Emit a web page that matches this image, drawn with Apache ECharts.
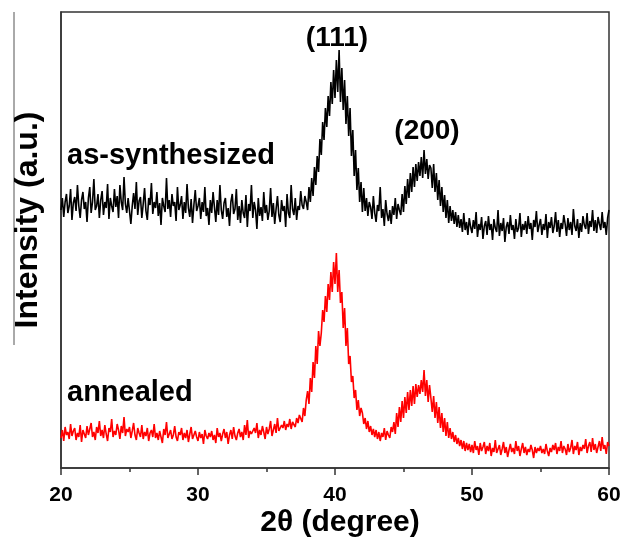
<!DOCTYPE html>
<html>
<head>
<meta charset="utf-8">
<script src="https://cdn.jsdelivr.net/npm/echarts@6/dist/echarts.min.js"></script>
<style>
  html, body { margin: 0; padding: 0; background: #fff; }
  #chart { width: 631px; height: 543px; }
</style>
</head>
<body>
<div id="chart"></div>
<script>
// 2θ scan: 20° to 60°, step 0.1°
const scanStart = 20;
const scanStep = 0.1;
const xTicks = [20, 30, 40, 50, 60];

// intensity (a.u.)
const asSynthesized = [
  258, 270, 251, 266, 274, 255, 262, 279, 248, 265,
  271, 257, 283, 262, 250, 268, 276, 259, 266, 246,
  270, 281, 255, 266, 289, 258, 262, 274, 250, 268,
  277, 253, 266, 260, 284, 249, 270, 262, 256, 279,
  261, 272, 250, 283, 266, 258, 291, 264, 255, 270,
  268, 244, 262, 275, 259, 286, 253, 267, 271, 250,
  264, 280, 257, 248, 270, 263, 285, 254, 266, 260,
  276, 252, 265, 243, 270, 262, 256, 290, 259, 268,
  251, 274, 262, 266, 247, 281, 258, 263, 272, 249,
  266, 255, 284, 260, 251, 269, 245, 263, 278, 257,
  262, 270, 249, 266, 256, 281, 252, 260, 243, 268,
  255, 276, 261, 246, 268, 253, 283, 258, 249, 265,
  270, 251, 260, 242, 266, 274, 254, 259, 279, 248,
  262, 245, 268, 255, 250, 273, 241, 264, 257, 283,
  250, 266, 258, 239, 270, 252, 261, 247, 276, 255,
  263, 248, 257, 280, 251, 265, 244, 259, 272, 253,
  246, 268, 257, 262, 241, 274, 255, 250, 283, 259,
  253, 270, 248, 262, 258, 277, 263, 259, 272, 266,
  258, 281, 266, 290, 272, 301, 283, 312, 296, 329,
  313, 346, 328, 360, 341, 372, 352, 386, 364, 398,
  370, 408, 376, 418, 366, 400, 358, 388, 344, 372,
  332, 360, 312, 338, 292, 318, 278, 300, 266, 286,
  256, 280, 257, 270, 252, 266, 261, 249, 272, 255,
  246, 263, 257, 281, 250, 259, 242, 268, 254, 247,
  258, 244, 262, 253, 270, 249, 264, 258, 253, 274,
  256, 282, 264, 289, 270, 295, 276, 301, 281, 304,
  287, 306, 292, 311, 290, 318, 294, 309, 289, 303,
  300, 280, 304, 276, 295, 268, 288, 262, 281, 256,
  273, 250, 268, 245, 262, 247, 258, 244, 256, 241,
  253, 240, 249, 236, 255, 238, 246, 233, 250, 241,
  235, 248, 239, 256, 231, 244, 238, 251, 229, 242,
  247, 233, 252, 238, 244, 228, 249, 240, 236, 258,
  232, 245, 237, 250, 226, 241, 246, 234, 253, 238,
  243, 229, 249, 236, 240, 255, 231, 244, 238, 247,
  234, 252, 239, 245, 228, 248, 241, 257, 236, 243,
  249, 233, 244, 238, 254, 230, 246, 240, 251, 235,
  242, 256, 236, 248, 231, 245, 239, 253, 244, 232,
  250, 238, 246, 233, 259, 242, 237, 249, 230, 245,
  236, 252, 243, 239, 255, 234, 247, 241, 258, 237,
  248, 235, 251, 244, 238, 256, 240, 246, 233, 250,
  258
];

const annealed = [
  30, 38, 27, 41, 33, 36, 29, 44, 32, 37,
  40, 28, 35, 31, 43, 26, 38, 34, 30, 42,
  33, 39, 45, 31, 36, 28, 41, 35, 47, 32,
  38, 30, 43, 34, 27, 40, 36, 49, 31, 37,
  33, 44, 38, 29, 42, 35, 51, 32, 39, 36,
  41, 30, 37, 45, 33, 28, 40, 35, 31, 43,
  29, 36, 32, 40, 27, 35, 38, 31, 44, 30,
  35, 28, 37, 31, 25, 39, 33, 46, 30, 34,
  38, 29, 33, 42, 31, 27, 36, 33, 40, 28,
  35, 30, 38, 26, 34, 41, 29, 33, 37, 31,
  27, 36, 30, 34, 24, 38, 32, 29, 35, 31,
  37, 28, 33, 25, 40, 31, 35, 27, 34, 39,
  30, 36, 24, 33, 38, 29, 41, 32, 28, 35,
  39, 31, 36, 28, 43, 33, 48, 30, 37, 34,
  32, 40, 35, 45, 30, 38, 33, 42, 36, 29,
  41, 34, 39, 47, 32, 38, 44, 35, 50, 37,
  36, 43, 40, 47, 38, 44, 41, 49, 39, 46,
  48, 41, 50, 45, 53, 53, 46, 60, 52, 68,
  77, 64, 90, 76, 106, 90, 122, 104, 137, 122,
  135, 158, 146, 172, 156, 184, 168, 196, 176, 206,
  184, 215, 176, 198, 165, 176, 140, 160, 122, 140,
  104, 112, 86, 92, 70, 78, 58, 68, 52, 60,
  55, 44, 50, 39, 47, 36, 42, 33, 39, 31,
  38, 29, 36, 27, 35, 31, 40, 28, 37, 33,
  30, 41, 36, 46, 34, 55, 41, 61, 46, 67,
  50, 71, 55, 76, 58, 78, 62, 82, 64, 84,
  71, 83, 74, 88, 76, 98, 72, 88, 66, 83,
  70, 56, 72, 50, 66, 45, 61, 40, 55, 36,
  50, 32, 46, 30, 40, 29, 36, 26, 33, 24,
  30, 22, 28, 19, 27, 17, 25, 18, 24, 16,
  23, 15, 27, 18, 22, 13, 25, 17, 21, 26,
  14, 22, 17, 25, 12, 20, 16, 28, 15, 19,
  23, 13, 19, 26, 15, 21, 11, 18, 24, 16,
  20, 14, 27, 17, 22, 12, 19, 25, 15, 21,
  13, 19, 16, 23, 18, 10, 21, 15, 20, 17,
  22, 15, 19, 14, 24, 17, 12, 20, 16, 23,
  18, 25, 14, 21, 17, 27, 15, 22, 19, 13,
  24, 16, 20, 28, 14, 22, 18, 26, 13, 21,
  17, 23, 19, 29, 15, 22, 26, 16, 30, 18,
  24, 15, 21, 27, 17, 31, 19, 23, 14, 26,
  22
];

const twoTheta = asSynthesized.map((_, i) => +(scanStart + i * scanStep).toFixed(1));
const pairs = (ys) => ys.map((y, i) => [twoTheta[i], y]);

const font = '"Liberation Sans", Arial, sans-serif';
const chart = echarts.init(document.getElementById('chart'));

chart.setOption({
    animation: false,
    backgroundColor: '#fff',
    grid: {
        left: 61, right: 22, top: 12, bottom: 75,
        show: true, borderColor: '#333', borderWidth: 1.5
    },
    xAxis: {
        type: 'value', min: 20, max: 60, interval: 10,
        axisLine: { show: true, lineStyle: { color: '#333', width: 1.5 } },
        axisTick: { show: true, inside: false, length: 7, lineStyle: { color: '#333', width: 1.5 } },
        minorTick: { show: true, splitNumber: 2, length: 4, lineStyle: { color: '#333', width: 1.5 } },
        axisLabel: {
            margin: 17, color: '#000', fontSize: 21, fontWeight: 'bold', fontFamily: font,
            formatter: (v) => xTicks.includes(v) ? String(v) : ''
        },
        splitLine: { show: false }
    },
    yAxis: {
        type: 'value', min: 0, max: 456,
        axisLine: { show: true, lineStyle: { color: '#333', width: 1.5 } },
        axisTick: { show: false },
        axisLabel: { show: false },
        splitLine: { show: false }
    },
    series: [
        {
            name: 'as-synthesized', type: 'line', data: pairs(asSynthesized),
            showSymbol: false, lineStyle: { color: '#000', width: 1.6 }
        },
        {
            name: 'annealed', type: 'line', data: pairs(annealed),
            showSymbol: false, lineStyle: { color: '#ff0000', width: 1.6 }
        }
    ],
    graphic: [
        { type: 'line', shape: { x1: 14, y1: 12, x2: 14, y2: 345 }, style: { stroke: '#555', lineWidth: 1 } },
        {
            type: 'text', x: 28, y: 220, rotation: Math.PI / 2,
            style: { text: 'Intensity (a.u.)', font: 'bold 32px ' + font, fill: '#000', textAlign: 'center', textVerticalAlign: 'middle' }
        },
        {
            type: 'text', x: 340, y: 523,
            style: { text: '2θ (degree)', font: 'bold 30px ' + font, fill: '#000', textAlign: 'center', textVerticalAlign: 'middle' }
        },
        {
            type: 'text', x: 337, y: 38,
            style: { text: '(111)', font: 'bold 28px ' + font, fill: '#000', textAlign: 'center', textVerticalAlign: 'middle' }
        },
        {
            type: 'text', x: 427, y: 131,
            style: { text: '(200)', font: 'bold 28px ' + font, fill: '#000', textAlign: 'center', textVerticalAlign: 'middle' }
        },
        {
            type: 'text', x: 67, y: 156,
            style: { text: 'as-synthesized', font: 'bold 29px ' + font, fill: '#000', textAlign: 'left', textVerticalAlign: 'middle' }
        },
        {
            type: 'text', x: 67, y: 393,
            style: { text: 'annealed', font: 'bold 29px ' + font, fill: '#000', textAlign: 'left', textVerticalAlign: 'middle' }
        }
    ]
});
</script>
</body>
</html>
